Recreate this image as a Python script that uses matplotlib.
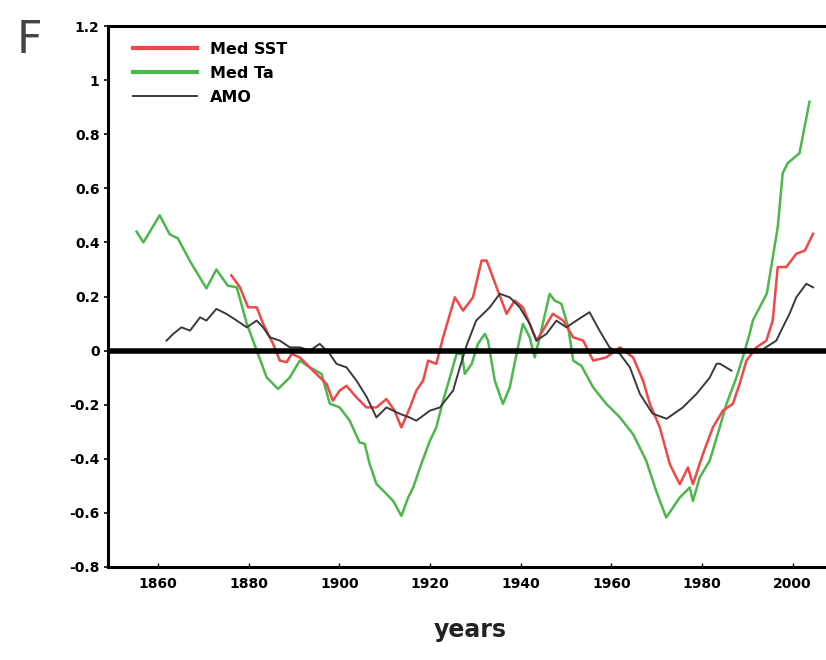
import numpy as np
import matplotlib
matplotlib.use("Agg")
import matplotlib.pyplot as plt

# ---- data ----
ta_years = [1855.3, 1856.8, 1860.4, 1862.6, 1864.4, 1867.1, 1870.7, 1872.9, 1875.4, 1877.4,
            1879.6, 1881.8, 1884.0, 1886.5, 1889.1, 1891.3, 1893.5, 1896.1, 1897.9, 1900.1,
            1902.3, 1904.5, 1905.6, 1906.7, 1908.2, 1910.4, 1911.9, 1913.7, 1915.2, 1916.3,
            1918.1, 1920.0, 1921.4, 1922.9, 1924.4, 1925.9, 1927.0, 1927.7, 1929.2, 1930.6,
            1932.1, 1932.8, 1934.3, 1936.1, 1937.6, 1939.1, 1940.5, 1942.0, 1943.1, 1944.2,
            1946.4, 1947.5, 1949.0, 1950.5, 1951.6, 1953.4, 1956.0, 1958.9, 1961.9, 1964.8,
            1967.7, 1969.9, 1972.1, 1975.1, 1977.3, 1978.0, 1979.5, 1981.7, 1983.9, 1985.4,
            1987.6, 1989.0, 1990.5, 1991.2, 1994.3, 1996.7, 1997.8, 1998.9, 2001.5, 2003.7]
ta_vals = [0.44, 0.40, 0.50, 0.43, 0.415, 0.33, 0.23, 0.30, 0.24, 0.234,
           0.10, 0.0, -0.099, -0.142, -0.099, -0.037, -0.062, -0.086, -0.196, -0.21,
           -0.259, -0.34, -0.344, -0.419, -0.493, -0.53, -0.556, -0.611, -0.543, -0.506,
           -0.419, -0.333, -0.284, -0.185, -0.099, -0.011, -0.012, -0.086, -0.049, 0.025,
           0.062, 0.037, -0.111, -0.197, -0.136, -0.012, 0.099, 0.049, -0.025, 0.049,
           0.21, 0.185, 0.173, 0.086, -0.037, -0.056, -0.136, -0.197, -0.247, -0.309,
           -0.407, -0.519, -0.617, -0.543, -0.506, -0.556, -0.469, -0.407, -0.284, -0.197,
           -0.099, -0.025, 0.062, 0.111, 0.211, 0.456, 0.656, 0.693, 0.73, 0.92]

sst_years = [1876.2, 1878.1, 1879.9, 1881.8, 1883.2, 1885.4, 1886.9, 1888.4, 1889.5, 1891.3,
             1894.2, 1897.2, 1898.6, 1900.1, 1901.6, 1903.8, 1906.0, 1908.2, 1910.4, 1912.2,
             1913.7, 1915.6, 1917.0, 1918.5, 1919.6, 1921.4, 1922.9, 1925.5, 1927.3, 1929.5,
             1931.4, 1932.5, 1934.7, 1936.9, 1938.7, 1940.5, 1942.0, 1943.5, 1944.9, 1947.1,
             1949.4, 1951.6, 1953.8, 1956.0, 1958.9, 1961.9, 1964.8, 1967.0, 1968.5, 1970.7,
             1972.9, 1975.1, 1976.9, 1978.0, 1980.2, 1982.4, 1984.6, 1986.8, 1988.3, 1989.8,
             1992.0, 1994.2, 1995.6, 1996.7, 1998.6, 2000.8, 2002.7, 2004.5]
sst_vals = [0.278, 0.234, 0.160, 0.160, 0.10, 0.025, -0.037, -0.043, -0.012, -0.025,
            -0.074, -0.123, -0.185, -0.148, -0.13, -0.173, -0.21, -0.21, -0.179, -0.222,
            -0.284, -0.21, -0.148, -0.111, -0.037, -0.049, 0.049, 0.197, 0.148, 0.197,
            0.333, 0.333, 0.234, 0.136, 0.185, 0.16, 0.099, 0.037, 0.074, 0.136,
            0.111, 0.049, 0.037, -0.037, -0.025, 0.012, -0.025, -0.111, -0.197, -0.284,
            -0.42, -0.494, -0.432, -0.494, -0.383, -0.284, -0.222, -0.197, -0.123, -0.037,
            0.012, 0.037, 0.111, 0.309, 0.309, 0.358, 0.37, 0.432]

amo_years = [1861.9, 1863.4, 1865.2, 1867.1, 1869.3, 1870.7, 1872.9, 1875.1, 1877.4, 1879.6,
             1881.8, 1883.2, 1884.7, 1886.9, 1889.1, 1891.3, 1893.5, 1895.7, 1897.9, 1899.4,
             1901.6, 1903.8, 1906.0, 1908.2, 1910.4, 1913.4, 1915.5, 1917.0, 1920.0, 1922.2,
             1925.1, 1926.6, 1928.1, 1930.2, 1933.2, 1935.4, 1937.6, 1939.8, 1942.0, 1943.5,
             1945.7, 1947.9, 1950.1, 1952.3, 1955.2, 1957.4, 1959.6, 1961.9, 1964.1, 1966.3,
             1969.1, 1972.2, 1975.7, 1978.8, 1981.7, 1983.2, 1983.9, 1986.5, 1989.0,
             1992.5, 1996.4, 1997.1, 1999.3, 2000.8, 2003.0, 2004.5]
amo_vals = [0.037, 0.062, 0.086, 0.074, 0.123, 0.111, 0.154, 0.136, 0.111, 0.086,
            0.111, 0.086, 0.049, 0.037, 0.012, 0.012, 0.0, 0.025, -0.012, -0.049,
            -0.062, -0.111, -0.17, -0.247, -0.21, -0.234, -0.247, -0.259, -0.222, -0.21,
            -0.148, -0.062, 0.02, 0.111, 0.16, 0.21, 0.197, 0.16, 0.099, 0.037,
            0.062, 0.111, 0.086, 0.111, 0.142, 0.074, 0.012, -0.012, -0.062, -0.16,
            -0.233, -0.252, -0.211, -0.16, -0.10, -0.049, -0.048, -0.074, np.nan,
            -0.005, 0.037, 0.062, 0.136, 0.197, 0.247, 0.234]

x_ticks = [1860, 1880, 1900, 1920, 1940, 1960, 1980, 2000]
y_ticks = [-0.8, -0.6, -0.4, -0.2, 0, 0.2, 0.4, 0.6, 0.8, 1, 1.2]
y_ticklabels = ["-0.8", "-0.6", "-0.4", "-0.2", "0", "0.2", "0.4", "0.6", "0.8", "1", "1.2"]
labels = ["Med SST", "Med Ta", "AMO"]

# ---- figure ----
W, H = 826, 660
fig = plt.figure(figsize=(W / 100, H / 100), dpi=100)
left_px, right_px, top_px, bot_px = 108, 848, 26, 567
ax = fig.add_axes([left_px / W, 1 - bot_px / H, (right_px - left_px) / W, (bot_px - top_px) / H])

ax.plot(sst_years, sst_vals, color="#f04848", lw=1.8, label=labels[0], zorder=3)
ax.plot(ta_years, ta_vals, color="#4cb84c", lw=1.8, label=labels[1], zorder=2)
ax.plot(amo_years, amo_vals, color="#3a3a3a", lw=1.4, label=labels[2], zorder=4)
ax.axhline(0, color="black", lw=4.0, zorder=5)

ax.set_xlim(1849, 2012.2)
ax.set_ylim(-0.8, 1.2)
ax.set_xticks(x_ticks)
ax.set_xticklabels([str(t) for t in x_ticks], fontsize=10, fontweight="bold")
ax.set_yticks(y_ticks)
ax.set_yticklabels(y_ticklabels, fontsize=10, fontweight="bold")
ax.tick_params(axis="y", direction="out", length=3, width=1.2, pad=3)
ax.tick_params(axis="x", direction="in", length=3, width=1.0, pad=7)
for s in ax.spines.values():
    s.set_linewidth(2.2)

axw = right_px - left_px
axh = bot_px - top_px
leg = ax.legend(loc="upper left", frameon=False, handlelength=4.0,
                handletextpad=0.8, labelspacing=0.55, borderaxespad=0.0, borderpad=0.0,
                bbox_to_anchor=((133 - left_px) / axw, (bot_px - 42) / axh),
                prop={"weight": "bold", "size": 11.5})
for line in leg.get_lines()[:2]:
    line.set_linewidth(3.0)

fig.text(17 / W, 1 - 62 / H, "F", fontsize=32, color="#444444", ha="left", va="bottom")
fig.text(470 / W, 1 - 642 / H, "years", fontsize=17, color="#222222", ha="center",
         va="bottom", fontweight="bold")

fig.savefig("out.png", dpi=100)
